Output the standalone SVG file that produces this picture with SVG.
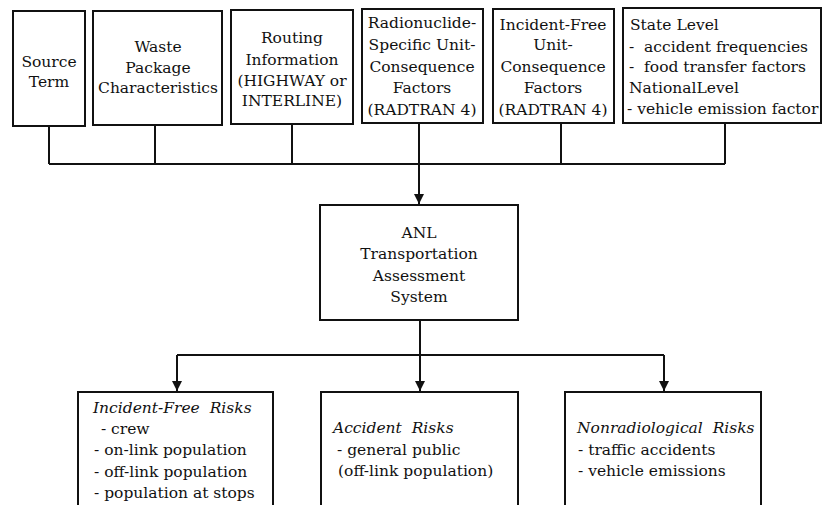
<svg xmlns="http://www.w3.org/2000/svg" width="825" height="505" viewBox="0 0 825 505">
<style>
.box{fill:#fff;stroke:#111;stroke-width:2}
.ln{fill:none;stroke:#111;stroke-width:2}
text{font-family:"DejaVu Serif","Liberation Serif",serif;font-size:15.5px;fill:#111;white-space:pre}
.c{text-anchor:middle}
.i{font-style:italic}
</style>
<defs>
<marker id="ah" viewBox="0 0 10 12" refX="10" refY="6" markerWidth="10" markerHeight="12" markerUnits="userSpaceOnUse" orient="auto">
<path d="M0,1 L10,6 L0,11 Z" fill="#111"/>
</marker>
</defs>
<rect width="825" height="505" fill="#fff"/>
<g id="connectors">
<path class="ln" d="M49,126 V164 M155,125 V164 M292,124 V164 M561,123 V164 M725,123 V164 M49,164 H725"/>
<path class="ln" d="M419,123 V204" marker-end="url(#ah)"/>
<path class="ln" d="M420,320 V355 M177,355 H664"/>
<path class="ln" d="M177,355 V391" marker-end="url(#ah)"/>
<path class="ln" d="M420,355 V391" marker-end="url(#ah)"/>
<path class="ln" d="M664,355 V391" marker-end="url(#ah)"/>
</g>
<g id="source-term">
<rect class="box" x="13" y="11" width="72" height="115"/>
<text class="c" x="49" y="67">Source</text>
<text class="c" x="49" y="87">Term</text>
</g>
<g id="waste-package">
<rect class="box" x="93" y="11" width="129" height="114"/>
<text class="c" x="158" y="52">Waste</text>
<text class="c" x="158" y="73">Package</text>
<text class="c" x="158" y="93">Characteristics</text>
</g>
<g id="routing">
<rect class="box" x="231" y="10" width="122" height="114"/>
<text class="c" x="292" y="43">Routing</text>
<text class="c" x="292" y="65">Information</text>
<text class="c" x="292" y="86">(HIGHWAY or</text>
<text class="c" x="292" y="106">INTERLINE)</text>
</g>
<g id="radionuclide">
<rect class="box" x="362" y="9" width="121" height="114"/>
<text class="c" x="422" y="28">Radionuclide-</text>
<text class="c" x="422" y="50">Specific Unit-</text>
<text class="c" x="422" y="72">Consequence</text>
<text class="c" x="422" y="93">Factors</text>
<text class="c" x="422" y="115">(RADTRAN 4)</text>
</g>
<g id="incident-free-factors">
<rect class="box" x="493" y="9" width="121" height="114"/>
<text class="c" x="553" y="30">Incident-Free</text>
<text class="c" x="553" y="50">Unit-</text>
<text class="c" x="553" y="72">Consequence</text>
<text class="c" x="553" y="93">Factors</text>
<text class="c" x="553" y="115">(RADTRAN 4)</text>
</g>
<g id="state-level">
<rect class="box" x="623" y="8" width="198" height="115"/>
<text x="630" y="30">State Level</text>
<text x="629" y="52">-  accident frequencies</text>
<text x="629" y="72">-  food transfer factors</text>
<text x="629" y="93">NationalLevel</text>
<text x="627" y="114">- vehicle emission factor</text>
</g>
<g id="anl">
<rect class="box" x="320" y="205" width="198" height="115"/>
<text class="c" x="419" y="238">ANL</text>
<text class="c" x="419" y="259">Transportation</text>
<text class="c" x="419" y="281">Assessment</text>
<text class="c" x="419" y="302">System</text>
</g>
<g id="incident-free-risks">
<rect class="box" x="78" y="392" width="195" height="120"/>
<text class="i" x="93" y="413">Incident-Free  Risks</text>
<text x="96" y="434"> - crew</text>
<text x="94" y="455">- on-link population</text>
<text x="94" y="477">- off-link population</text>
<text x="94" y="498">- population at stops</text>
</g>
<g id="accident-risks">
<rect class="box" x="321" y="392" width="197" height="120"/>
<text class="i" x="333" y="433">Accident  Risks</text>
<text x="337" y="455">- general public</text>
<text x="338" y="476">(off-link population)</text>
</g>
<g id="nonradiological-risks">
<rect class="box" x="565" y="392" width="196" height="120"/>
<text class="i" x="577" y="433">Nonradiological  Risks</text>
<text x="578" y="455">- traffic accidents</text>
<text x="578" y="476">- vehicle emissions</text>
</g>
</svg>
